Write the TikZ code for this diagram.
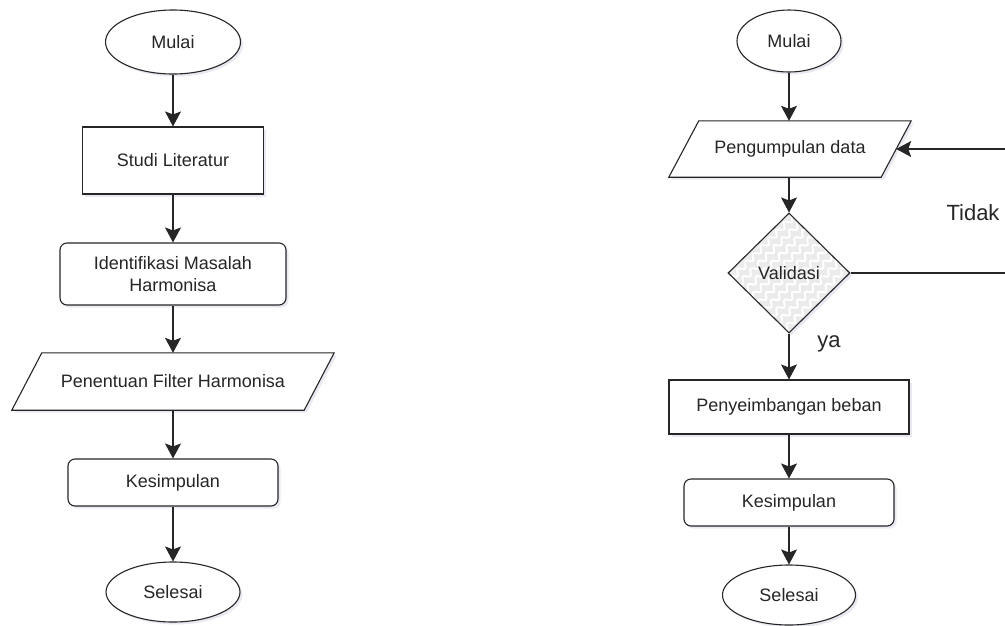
\documentclass[tikz,border=0pt]{standalone}
\usepackage{fontspec}
\setmainfont{Liberation Sans}
\usetikzlibrary{shapes.geometric,arrows.meta,shadows,decorations.pathmorphing,calc}
\begin{document}
\begin{tikzpicture}[x=1pt,y=-1pt,
  shd/.style={drop shadow={opacity=0.22,shadow xshift=2.5pt,shadow yshift=-2.5pt,fill=black!60!blue!40}},
  base/.style={draw=black!85,line width=1.1pt,fill=white,text=black!85,
    font=\fontsize{18}{22}\selectfont,inner sep=0pt,shd},
  term/.style={base,ellipse},
  proc/.style={base,rectangle},
  rproc/.style={base,rectangle,rounded corners=7pt},
  iobox/.style={inner sep=0pt,text=black!85,font=\fontsize{18}{22}\selectfont},
  iodraw/.style={draw=black!85,line width=1.1pt,fill=white,shd},
  lbl/.style={text=black!85,font=\fontsize{22}{26}\selectfont,inner sep=0pt},
  arr/.style={draw=black!85,line width=1.1pt,-{Stealth[length=15pt,width=16pt,inset=3pt]}}
]
\useasboundingbox (0,0) rectangle (1005,625);

% ---------- left column ----------
\node[term,minimum width=135pt,minimum height=64pt] (m1) at (173,42) {Mulai};
\node[proc,minimum width=181pt,minimum height=67pt] (s1) at (173,160.5) {Studi Literatur};
\node[rproc,minimum width=226pt,minimum height=62pt,align=center] (i1) at (173,274) {Identifikasi Masalah\\Harmonisa};
\node[iobox,minimum width=292pt,minimum height=57pt] (p1) at (173,381.5) {};
\path[iodraw] ($(p1.north west)+(15pt,0)$) -- ($(p1.north east)+(15pt,0)$) -- ($(p1.south east)+(-15pt,0)$) -- ($(p1.south west)+(-15pt,0)$) -- cycle;
\node[iobox] at (p1.center) {Penentuan Filter Harmonisa};
\node[rproc,minimum width=210pt,minimum height=47pt] (k1) at (173,482.5) {Kesimpulan};
\node[term,minimum width=134pt,minimum height=60pt] (e1) at (173,592) {Selesai};

\draw[arr] (m1) -- (s1);
\draw[arr] (s1) -- (i1);
\draw[arr] (i1) -- (p1);
\draw[arr] (p1) -- (k1);
\draw[arr] (k1) -- (e1);

% ---------- right column ----------
\node[term,minimum width=104pt,minimum height=62pt] (m2) at (789,41) {Mulai};
\node[iobox,minimum width=212pt,minimum height=56pt] (p2) at (790,149) {};
\path[iodraw] ($(p2.north west)+(15pt,0)$) -- ($(p2.north east)+(15pt,0)$) -- ($(p2.south east)+(-15pt,0)$) -- ($(p2.south west)+(-15pt,0)$) -- cycle;
\node[iobox] at (p2.center) {Pengumpulan data};
\node[base,diamond,fill=black!8,minimum width=122pt,minimum height=120pt,
  path picture={
    \foreach \i in {-8,...,8}
      \draw[white,line width=2pt,decorate,decoration={snake,amplitude=2.6pt,segment length=11pt}]
        ($(path picture bounding box.center)+(\i*13pt-70pt,-70pt)$) -- ++(140pt,140pt);
  }] (v) at (789,273) {Validasi};
\node[proc,minimum width=240pt,minimum height=54pt] (b2) at (789,407) {Penyeimbangan beban};
\node[rproc,minimum width=210pt,minimum height=47pt] (k2) at (789,502.5) {Kesimpulan};
\node[term,minimum width=133pt,minimum height=60pt] (e2) at (789,595) {Selesai};

\coordinate (lp) at (1015,273);
\draw[arr] (m2.south) -- (m2.south |- p2.north);
\draw[arr] (p2.south -| v.north) -- (v.north);
\draw[arr] (v.south) -- (b2.north);
\draw[arr] (b2.south) -- (k2.north);
\draw[arr] (k2.south) -- (e2.north);
\draw[arr] (v.east) -- (lp) |- (p2.east);

\node[lbl] (tidak) at (973,213) {Tidak};
\node[lbl] (ya) at (829,344) {ya};
\end{tikzpicture}
\end{document}
